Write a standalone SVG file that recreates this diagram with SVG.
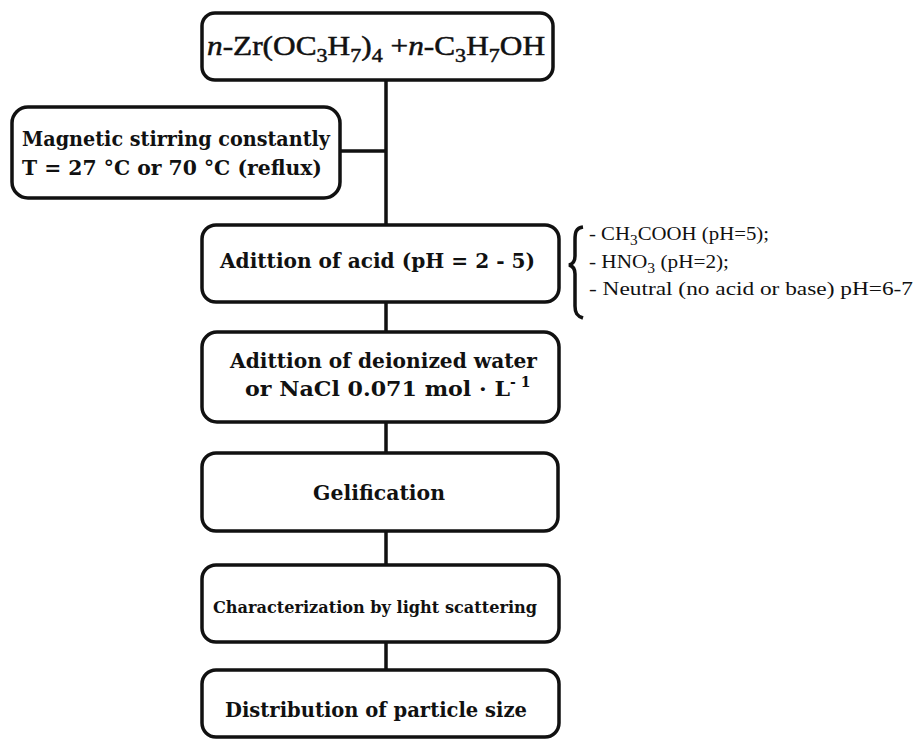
<svg xmlns="http://www.w3.org/2000/svg" width="919" height="744" viewBox="0 0 919 744">
<style>
.box{fill:#fff;stroke:#111;stroke-width:3.5}
.ln{stroke:#111;stroke-width:3.5;fill:none}
.t{font-family:"DejaVu Serif","Liberation Serif",serif;fill:#111;font-weight:bold}
.h{font-family:"Liberation Serif","Times New Roman",serif;fill:#111;font-weight:normal}
.r{font-family:"Liberation Serif","Times New Roman",serif;fill:#111;font-size:19px}
</style>
<rect width="919" height="744" fill="#fff"/>
<g id="connectors">
<path class="ln" d="M386 80V225M386 302V332M386 422V453M386 531V565M386 642V670M340 151H386"/>
<path class="ln" stroke-width="2.2" d="M583 227C576 228 575 232 575 240V256C575 261 573 264 569 265C573 266 575 269 575 274V306C575 313 577 316 583 318"/>
</g>
<g id="n1">
<rect class="box" x="202" y="13" width="351" height="67" rx="13"/>
<text class="h" x="207" y="55" font-size="27" stroke="#111" stroke-width="0.5" textLength="338" lengthAdjust="spacingAndGlyphs"><tspan font-style="italic">n</tspan>-Zr(OC<tspan font-size="19" dy="7">3</tspan><tspan dy="-7">H</tspan><tspan font-size="19" dy="7">7</tspan><tspan dy="-7">)</tspan><tspan font-size="19" dy="7">4</tspan><tspan dy="-7">  +</tspan><tspan font-style="italic">n</tspan>-C<tspan font-size="19" dy="7">3</tspan><tspan dy="-7">H</tspan><tspan font-size="19" dy="7">7</tspan><tspan dy="-7">OH</tspan></text>
</g>
<g id="n2">
<rect class="box" x="12" y="107" width="328" height="91" rx="16"/>
<text class="t" x="22" y="146" font-size="21" textLength="308" lengthAdjust="spacingAndGlyphs">Magnetic stirring constantly</text>
<text class="t" x="22" y="175" font-size="21" textLength="300" lengthAdjust="spacingAndGlyphs">T = 27 °C or 70 °C (reflux)</text>
</g>
<g id="n3">
<rect class="box" x="202" y="225" width="357" height="77" rx="14"/>
<text class="t" x="220" y="268" font-size="21" textLength="315" lengthAdjust="spacingAndGlyphs">Adittion of acid (pH = 2 - 5)</text>
</g>
<g id="n3note">
<text class="r" x="589" y="240" textLength="180" lengthAdjust="spacingAndGlyphs">- CH<tspan font-size="14" dy="5">3</tspan><tspan dy="-5">COOH (pH=5);</tspan></text>
<text class="r" x="589" y="268" textLength="140" lengthAdjust="spacingAndGlyphs">- HNO<tspan font-size="14" dy="5">3</tspan><tspan dy="-5"> (pH=2);</tspan></text>
<text class="r" x="589" y="295" textLength="324" lengthAdjust="spacingAndGlyphs">- Neutral (no acid or base) pH=6-7</text>
</g>
<g id="n4">
<rect class="box" x="202" y="332" width="357" height="90" rx="15"/>
<text class="t" x="230" y="368" font-size="21" textLength="307" lengthAdjust="spacingAndGlyphs">Adittion of deionized water</text>
<text class="t" x="245" y="396" font-size="21" textLength="265" lengthAdjust="spacingAndGlyphs">or NaCl  0.071 mol · L</text>
<text class="t" x="510" y="387" font-size="14">- 1</text>
</g>
<g id="n5">
<rect class="box" x="202" y="453" width="356" height="78" rx="14"/>
<text class="t" x="313" y="500" font-size="21" textLength="132" lengthAdjust="spacingAndGlyphs">Gelification</text>
</g>
<g id="n6">
<rect class="box" x="202" y="565" width="357" height="77" rx="14"/>
<text class="t" x="213" y="613" font-size="16" textLength="324" lengthAdjust="spacingAndGlyphs">Characterization by light scattering</text>
</g>
<g id="n7">
<rect class="box" x="202" y="670" width="357" height="67" rx="14"/>
<text class="t" x="225" y="717" font-size="21" textLength="302" lengthAdjust="spacingAndGlyphs">Distribution of particle size</text>
</g>
</svg>
